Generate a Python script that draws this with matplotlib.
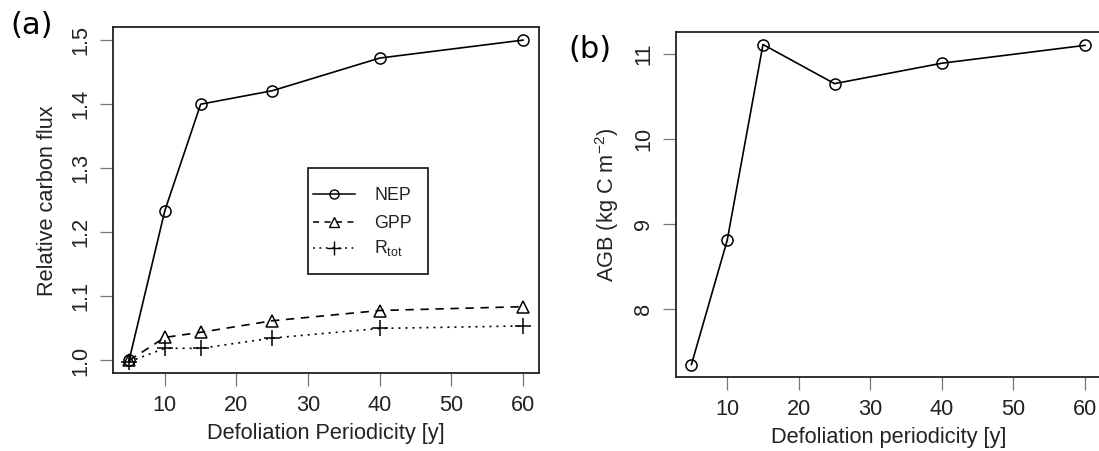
import matplotlib.pyplot as plt
from matplotlib.lines import Line2D
from matplotlib.patches import Rectangle
from matplotlib.transforms import Affine2D

# Defoliation experiment results
periodicity = [5, 10, 15, 25, 40, 60]
nep = [1.0, 1.234, 1.400, 1.421, 1.472, 1.500]
gpp = [1.0, 1.036, 1.044, 1.062, 1.078, 1.084]
rtot = [0.998, 1.019, 1.019, 1.035, 1.050, 1.054]
agb = [7.35, 8.81, 11.11, 10.65, 10.89, 11.10]

x_ticks = [10, 20, 30, 40, 50, 60]
flux_ticks = [1.0, 1.1, 1.2, 1.3, 1.4, 1.5]
agb_ticks = [8, 9, 10, 11]
series_names = ['NEP', 'GPP', r'R$_{\mathregular{tot}}$']

FONT = 'Liberation Sans'
FS = 15.7
TXT = '#222222'
W, H = 1099, 451


def r_limits(vals):
    # R-style 4% padding around the data range
    lo, hi = min(vals), max(vals)
    pad = 0.04 * (hi - lo)
    return lo - pad, hi + pad


def style_axes(ax, yticks, yfmt):
    for s in ax.spines.values():
        s.set_linewidth(1.3)
        s.set_color('#222222')
    ax.set_xticks(x_ticks)
    ax.set_xticklabels([str(t) for t in x_ticks], fontfamily=FONT, fontsize=FS, color=TXT)
    ax.set_yticks(yticks)
    ax.set_yticklabels([yfmt.format(t) for t in yticks], fontfamily=FONT, fontsize=FS,
                       color=TXT, rotation=90, va='center')
    ax.tick_params(direction='out', length=9.5, width=0.9, color='#777777', pad=6)


fig = plt.figure(figsize=(W / 100, H / 100), dpi=100)
# pixel coordinates measured from the top-left corner
px = Affine2D().scale(1 / W, -1 / H).translate(0, 1) + fig.transFigure

line_kw = dict(color='black', lw=1.2, mfc='none', mec='black', mew=1.1)
styles = [dict(marker='o', ms=8, ls='-'),
          dict(marker='^', ms=8.5, ls=(0, (5, 4))),
          dict(marker='+', ms=11, ls=(0, (1.2, 3)))]

# (a) relative carbon fluxes
ax1 = fig.add_axes([113.3 / W, 1 - 373.3 / H, 425.4 / W, 346 / H])
for vals, st in zip([nep, gpp, rtot], styles):
    ax1.plot(periodicity, vals, **st, **line_kw)
ax1.set_xlim(*r_limits(periodicity))
ax1.set_ylim(*r_limits(nep + gpp + [1.0]))
style_axes(ax1, flux_ticks, '{:.1f}')
ax1.set_xlabel('Defoliation Periodicity [y]', fontfamily=FONT, fontsize=FS, color=TXT, labelpad=5)
ax1.set_ylabel('Relative carbon flux', fontfamily=FONT, fontsize=FS, color=TXT, labelpad=9)

# legend box drawn by hand so the padding follows base R's legend()
fig.add_artist(Rectangle((308.3, 168.3), 120, 106, transform=px, fill=False,
                         lw=1.3, edgecolor='#222222'))
leg_kw = dict(color='black', lw=1.1, mfc='none', mec='black', mew=1.0)
leg_styles = [dict(marker='o', ms=6.5, ls='-'),
              dict(marker='^', ms=7, ls=(0, (4, 3.5))),
              dict(marker='+', ms=10, ls=(0, (1.2, 3)))]
for row_y, st, name in zip([194, 222, 248.3], leg_styles, series_names):
    fig.add_artist(Line2D([313, 355], [row_y, row_y], transform=px, **leg_kw,
                          ls=st['ls']))
    fig.add_artist(Line2D([334], [row_y], transform=px, marker=st['marker'],
                          ms=st['ms'], ls='none', mfc='none', mec='black', mew=1.0))
    fig.text(374, row_y, name, transform=px, fontfamily=FONT, fontsize=12.8,
             color=TXT, ha='left', va='center_baseline' if name != series_names[2] else 'center')

# (b) above-ground biomass
ax2 = fig.add_axes([675.7 / W, 1 - 377.3 / H, 425 / W, 345.6 / H])
ax2.plot(periodicity, agb, **styles[0], **line_kw)
ax2.set_xlim(*r_limits(periodicity))
ax2.set_ylim(*r_limits(agb))
style_axes(ax2, agb_ticks, '{:d}')
ax2.set_xlabel('Defoliation periodicity [y]', fontfamily=FONT, fontsize=FS, color=TXT, labelpad=5)
ax2.set_ylabel(r'AGB (kg C m$^{\mathregular{-2}}$)', fontfamily=FONT, fontsize=FS, color=TXT, labelpad=9)

# panel letters
fig.text(32, 26, '(a)', transform=px, fontfamily='DejaVu Sans', fontsize=22,
         ha='center', va='center', color='black')
fig.text(590, 49, '(b)', transform=px, fontfamily='DejaVu Sans', fontsize=22,
         ha='center', va='center', color='black')

fig.savefig('out.png', dpi=100)
